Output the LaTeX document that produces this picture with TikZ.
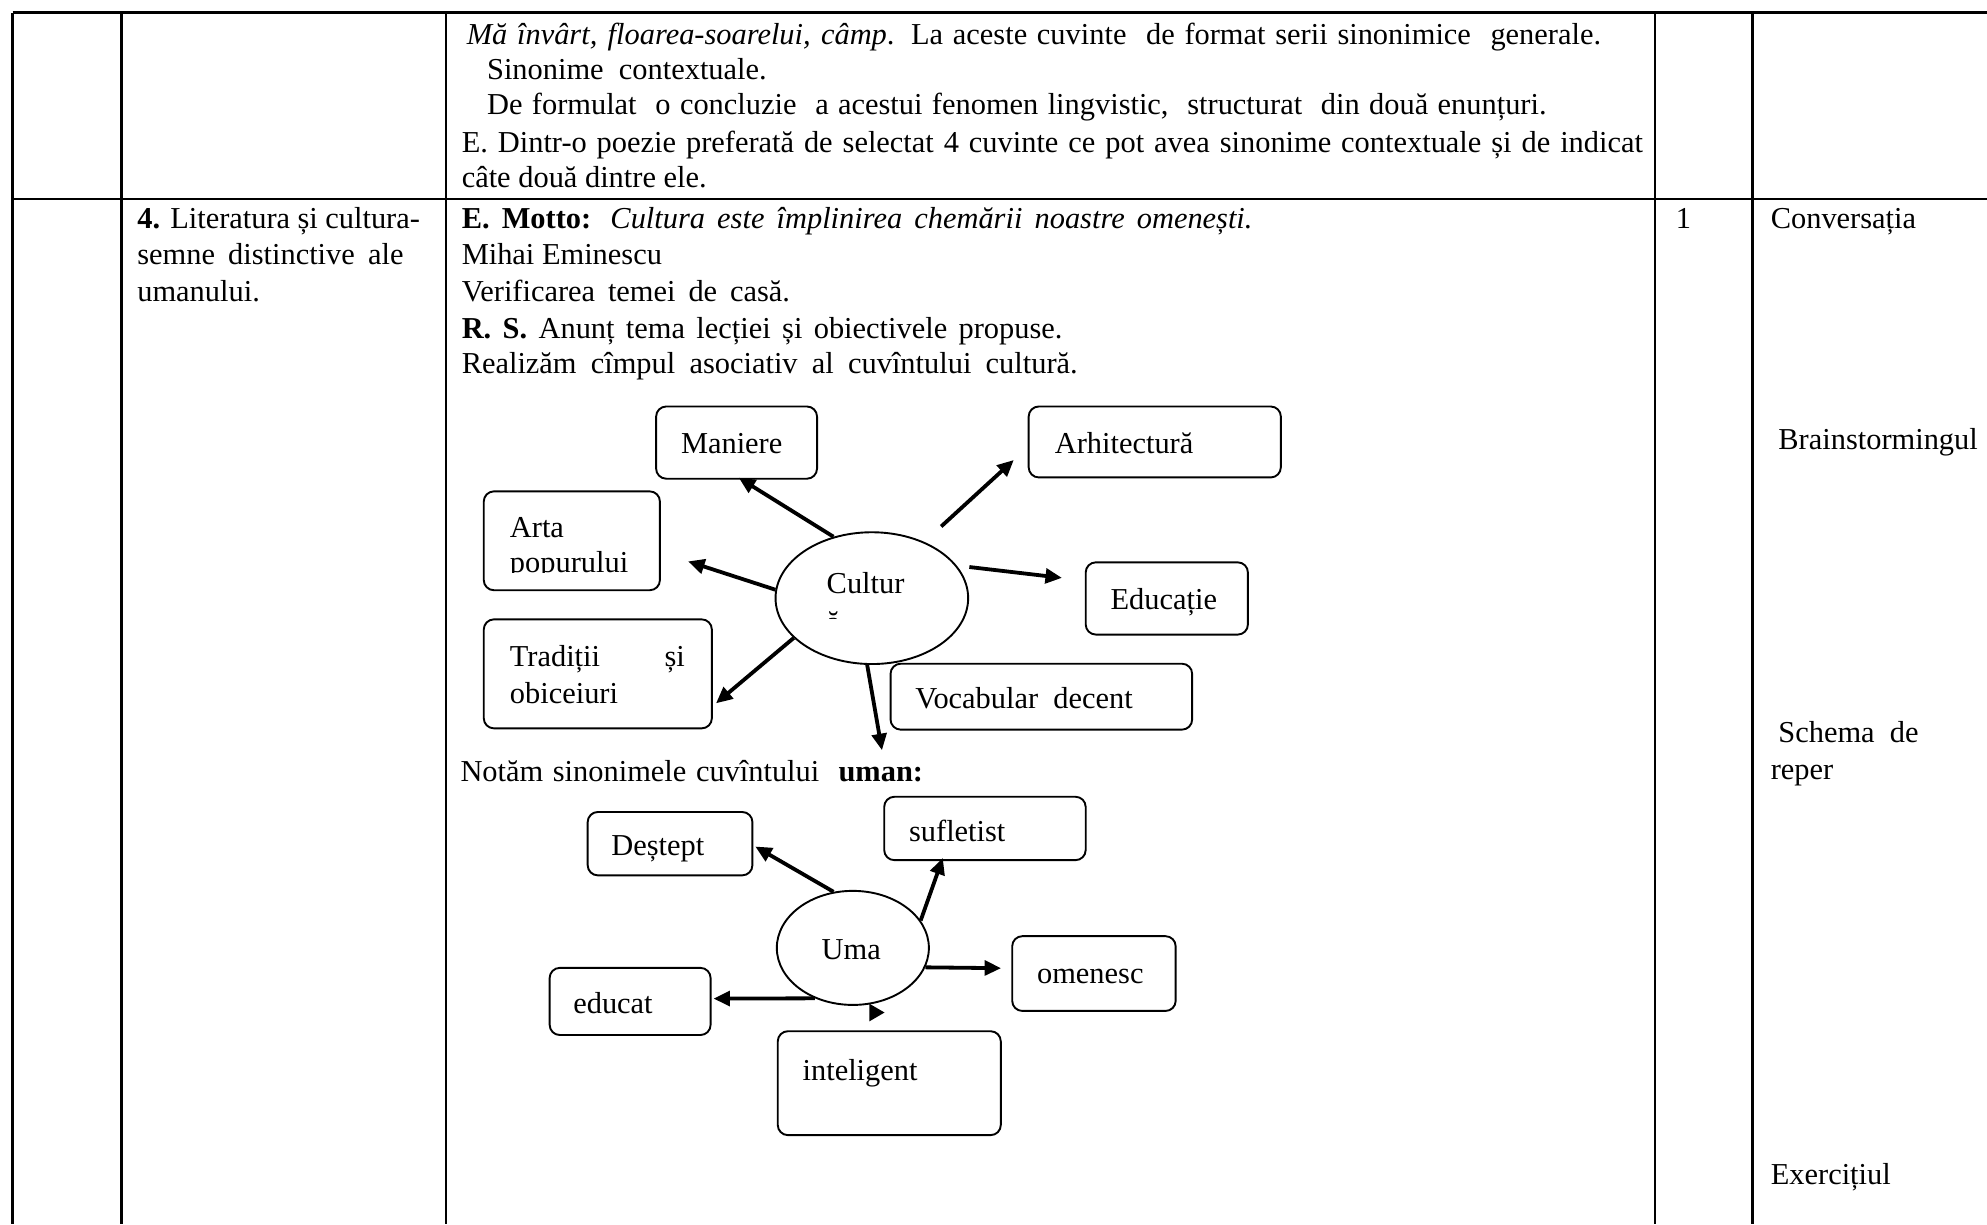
\documentclass[tikz,border=0pt]{standalone}
\usepackage{fontspec}
\setmainfont{Liberation Serif}
\usetikzlibrary{shapes.geometric,arrows.meta}
\begin{document}
\begin{tikzpicture}[x=0.5pt,y=-0.5pt,
  gridline/.style={line width=1pt},
  txt/.style={anchor=base west,inner sep=0pt,font=\fontsize{12}{14}\selectfont},
  bx/.style={draw,rounded corners=4pt,line width=0.75pt,inner sep=0pt,anchor=north west},
  ell/.style={draw,ellipse,line width=0.75pt,inner sep=0pt},
  arr/.style={line width=1.5pt,-{Triangle[length=6.5pt,width=5.8pt]}},
]
\useasboundingbox (0,0) rectangle (1568,966);
% table grid
\draw[gridline] (10,10) -- (1568,10);
\draw[gridline] (10,157) -- (1568,157);
\foreach \xx in {10,96,352,1306,1383} \draw[gridline] (\xx,10) -- (\xx,966);

% row 1 text
\node[txt] (r1a) at (368,35) {\makebox[447.5pt][s]{\textit{Mă învârt, floarea-soarelui, câmp}. La aceste cuvinte\ \ de format serii sinonimice\ \ generale.}};
\node[txt] (r1b) at (384,63) {Sinonime\ \ contextuale.};
\node[txt] (r1c) at (384,90) {\makebox[418pt][s]{De formulat\ \ o concluzie\ \ a acestui fenomen lingvistic,\ \ structurat\ \ din două enunțuri.}};
\node[txt] (r1d) at (364,120) {\makebox[466pt][s]{E. Dintr-o poezie preferată de selectat 4 cuvinte ce pot avea sinonime contextuale și de indicat}};
\node[txt] (r1e) at (364,148) {câte două dintre ele.};

% row 2, column 2
\node[txt] (c2a) at (108,180) {\makebox[111.5pt][s]{\textbf{4.} Literatura și cultura-}};
\node[txt] (c2b) at (108,209) {\makebox[105pt][s]{semne distinctive ale}};
\node[txt] (c2c) at (108,238) {umanului.};

% row 2, column 3
\node[txt] (c3a) at (364,180) {\makebox[312pt][s]{\textbf{E. Motto:} \textit{Cultura este împlinirea chemării noastre omenești.}}};
\node[txt] (c3b) at (364,209) {Mihai Eminescu};
\node[txt] (c3c) at (364,238) {\makebox[129.5pt][s]{Verificarea temei de casă.}};
\node[txt] (c3d) at (364,267) {\makebox[237pt][s]{\textbf{R. S.} Anunț tema lecției și obiectivele propuse.}};
\node[txt] (c3e) at (364,295) {\makebox[243pt][s]{Realizăm cîmpul asociativ al cuvîntului cultură.}};
\node[txt] (c3f) at (363,617) {\makebox[182.5pt][s]{Notăm sinonimele cuvîntului\ \ \textbf{uman:}}};

% column 4 and 5
\node[txt] (c4) at (1322,180) {1};
\node[txt] (c5a) at (1397,180) {Conversația};
\node[txt] (c5b) at (1403,355) {Brainstormingul};
\node[txt] (c5c) at (1403,586) {Schema\ \ de};
\node[txt] (c5d) at (1397,615) {reper};
\node[txt] (c5e) at (1397,935) {Exercițiul};

% diagram 1
\node[bx,minimum width=63.5pt,minimum height=28.5pt] (man) at (517,320) {};
\node[txt] at (537,358) {Maniere};
\node[bx,minimum width=99.5pt,minimum height=28pt] (arh) at (811,320) {};
\node[txt] at (832,358) {Arhitectură};
\node[bx,minimum width=69.5pt,minimum height=39pt] (art) at (381,387) {};
\node[txt] at (402,424) {Arta};
\begin{scope}
\clip (381,387) rectangle (520,452);
\node[txt] at (402,452) {popurului};
\end{scope}
\node[bx,minimum width=64pt,minimum height=28.5pt] (edu) at (856,443) {};
\node[txt] at (876,481) {Educație};
\node[bx,minimum width=90pt,minimum height=43pt] (tra) at (381,488) {};
\node[txt] at (402,526) {\makebox[69pt][s]{Tradiții și}};
\node[txt] at (402,555) {obiceiuri};
\node[bx,minimum width=119pt,minimum height=26pt] (voc) at (702,523) {};
\node[txt] at (722,559) {Vocabular\ \ decent};
\node[ell,minimum width=76pt,minimum height=52pt] (cul) at (688,472) {};
\node[txt] at (652,468) {Cultur};
\begin{scope}
\clip (620,440) rectangle (760,488);
\node[txt] at (652,499) {ă};
\end{scope}

\coordinate (eMan) at (583,377);
\coordinate (eArh) at (800,363);
\coordinate (eArt) at (543,443);
\coordinate (eEdu) at (838,456);
\coordinate (eTra) at (565,555);
\coordinate (eDown) at (696,592);
\draw[arr] (cul.122) -- (eMan);
\draw[arr,shorten <=9pt] (cul.47) -- (eArh);
\draw[arr] (cul.175) -- (eArt);
\draw[arr,shorten <=5pt] (cul.21) -- (eEdu);
\draw[arr] (cul.207) -- (eTra);
\draw[arr] (cul.266) -- (eDown);

% diagram 2
\node[bx,minimum width=65pt,minimum height=25pt] (des) at (463,640) {};
\node[txt] at (482,675) {Deștept};
\node[bx,minimum width=79.5pt,minimum height=25pt] (suf) at (697,628) {};
\node[txt] at (717,664) {sufletist};
\node[bx,minimum width=64.5pt,minimum height=29.5pt] (ome) at (798,738) {};
\node[txt] at (818,776) {omenesc};
\node[bx,minimum width=63.5pt,minimum height=26.5pt] (edc) at (433,763) {};
\node[txt] at (452,800) {educat};
\node[bx,minimum width=88pt,minimum height=41pt] (int) at (613,813) {};
\node[txt] at (633,853) {inteligent};
\node[ell,minimum width=60pt,minimum height=45pt] (uma) at (673,748) {};
\node[txt] at (648,757) {Uma};

\coordinate (eDes) at (596,668);
\coordinate (eSuf) at (744,677);
\coordinate (eOme) at (790,764);
\coordinate (eEdc) at (563,788);
\draw[arr] (uma.109) -- (eDes);
\draw[arr] (uma.22) -- (eSuf);
\draw[arr] (uma.-15) -- (eOme);
\draw[arr] (uma.233) -- (eEdc);
\fill (686,792) -- (698,799) -- (686,806) -- cycle;
\end{tikzpicture}
\end{document}
